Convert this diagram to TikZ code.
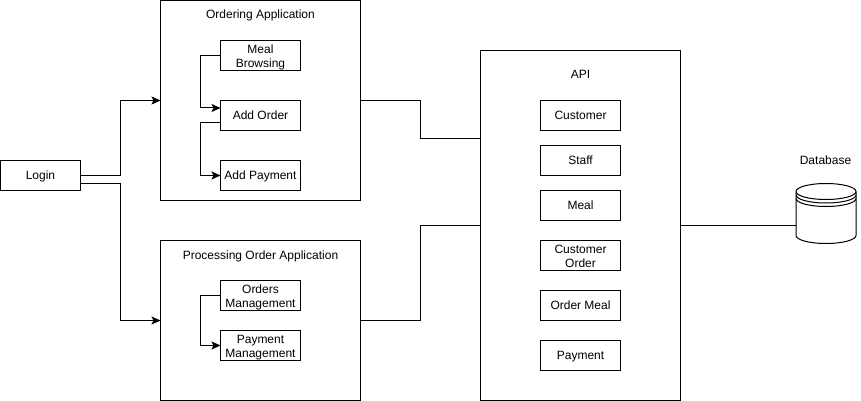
\documentclass[tikz,border=0pt]{standalone}
\usepackage{fontspec}
\setmainfont{Liberation Sans}
\usetikzlibrary{arrows.meta}
\newcommand{\twolines}[2]{\rule{0pt}{12pt}#1\\#2}
\tikzset{
    label text/.style={font=\fontsize{12}{14.4}\selectfont, align=center, execute at begin node={\rule[-2.5pt]{0pt}{12pt}}, execute at end node={\rule[-2.5pt]{0pt}{0pt}}},
    item/.style={draw, line width=1pt, outer sep=0pt, inner sep=0pt, minimum width=80pt, minimum height=30pt, label text},
    panel/.style={draw, line width=1pt, outer sep=0pt, inner sep=0pt, minimum width=200pt},
    title/.style={inner sep=0pt, label text},
    link/.style={line width=1pt},
    flow/.style={line width=1pt, -{Stealth[length=9pt, width=8pt, inset=2pt]}}
}
\begin{document}
\begin{tikzpicture}[x=1pt, y=-1pt]
    \useasboundingbox (-0.5, -0.5) rectangle (860.5, 400.5);
    % panels
    \node[panel, minimum height=200pt] (ordering) at (260, 100) {};
    \node[panel, minimum height=160pt] (processing) at (260, 320) {};
    \node[panel, minimum height=350pt] (api) at (580, 225) {};
    \node[title] (orderingtitle) at (260, 15) {Ordering Application};
    \node[title] (processingtitle) at (260, 255) {Processing Order Application};
    \node[title] (apititle) at (580, 75) {API};
    \node[title] (databasetitle) at (825, 160) {Database};
    % boxes
    \node[item] (login) at (40, 175) {Login};
    \node[item] (browsing) at (260, 55) {\twolines{Meal}{Browsing}};
    \node[item] (addorder) at (260, 115) {Add Order};
    \node[item] (addpayment) at (260, 175) {Add Payment};
    \node[item] (orders) at (260, 295) {\twolines{Orders}{Management}};
    \node[item] (payments) at (260, 345) {\twolines{Payment}{Management}};
    \node[item] (customer) at (580, 115) {Customer};
    \node[item] (staff) at (580, 160) {Staff};
    \node[item] (meal) at (580, 205) {Meal};
    \node[item] (customerorder) at (580, 255) {\twolines{Customer}{Order}};
    \node[item] (ordermeal) at (580, 305) {Order Meal};
    \node[item] (payment) at (580, 355) {Payment};
    % database
    \node[minimum width=60pt, minimum height=60pt, inner sep=0pt, outer sep=0pt] (database) at (825.5, 213) {};
    \draw[link, fill=white] (795.5, 191) arc[start angle=180, end angle=0, x radius=30, y radius=-8] -- (855.5, 235)
        arc[start angle=360, end angle=180, x radius=30, y radius=-8] -- cycle;
    \draw[link] (795.5, 191) arc[start angle=180, end angle=360, x radius=30, y radius=-8];
    \draw[link] (795.5, 194.5) arc[start angle=180, end angle=360, x radius=30, y radius=-8];
    \draw[link] (795.5, 198) arc[start angle=180, end angle=360, x radius=30, y radius=-8];
    % connectors
    \draw[flow] (login.east) -- ++(40, 0) |- (ordering.west);
    \draw[flow] ([yshift=-8pt]login.east) -- ++(40, 0) |- (processing.west);
    \draw[flow] (browsing.west) -- ++(-20, 0) |- ([yshift=7.5pt]addorder.west);
    \draw[flow] ([yshift=-7.5pt]addorder.west) -- ++(-20, 0) |- (addpayment.west);
    \draw[flow] (orders.west) -- ++(-20, 0) |- (payments.west);
    \draw[link] (ordering.east) -- ++(60, 0) |- ([yshift=87.5pt]api.west);
    \draw[link] (processing.east) -- ++(60, 0) |- (api.west);
    \draw[link] (api.east) -- ([yshift=-12pt]database.west);
\end{tikzpicture}
\end{document}
